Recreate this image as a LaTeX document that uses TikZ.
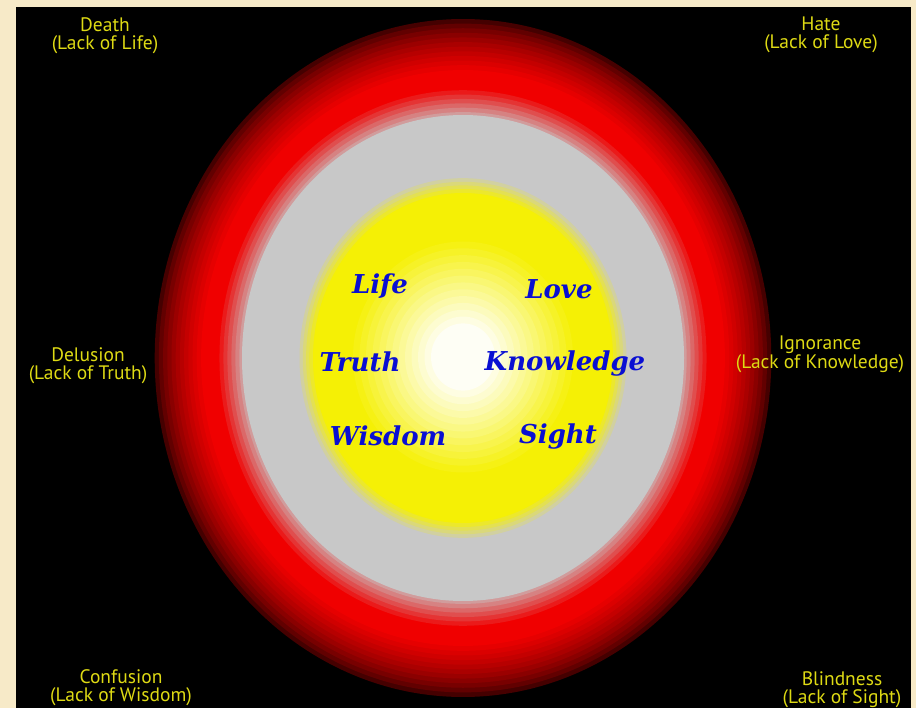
\documentclass[tikz,border=0pt]{standalone}
\usepackage{fontspec}
\newfontfamily\labfont{PT Sans}
\newfontfamily\wordfont{DejaVu Serif}[BoldItalicFont={DejaVu Serif Bold Italic}]
\definecolor{beige}{RGB}{247,234,200}
\definecolor{myred}{RGB}{240,0,0}
\definecolor{mygray}{RGB}{200,200,200}
\definecolor{myyellow}{RGB}{245,240,5}
\definecolor{labyellow}{RGB}{222,218,20}
\definecolor{wordblue}{RGB}{10,15,210}
\tikzset{
  lab/.style={text=labyellow, font=\labfont\fontsize{19.5}{18}\selectfont, align=center, inner sep=0pt},
  word/.style={text=wordblue, font=\wordfont\bfseries\itshape\fontsize{26}{28}\selectfont, inner sep=0pt}
}
\begin{document}
\begin{tikzpicture}[x=1pt,y=-1pt]
\useasboundingbox (0,0) rectangle (916,708);
\fill[beige] (0,0) rectangle (916,708);
\fill[black] (16,7) rectangle (911,708);
\coordinate (c) at (463,358);
% red ring: dark to red
\foreach \i in {0,...,10}{
  \pgfmathsetmacro{\s}{1.395-\i*0.019}
  \pgfmathsetmacro{\p}{100*sqrt((\i+1)/12)}
  \fill[myred!\p!black] (c) ellipse [x radius={221*\s}, y radius={243*\s}];
}
\fill[myred] (c) ellipse [x radius={221*1.185}, y radius={243*1.185}];
% red to gray
\foreach \i in {0,...,6}{
  \pgfmathsetmacro{\s}{1.12-\i*0.018}
  \pgfmathsetmacro{\p}{100-\i*13}
  \fill[myred!\p!mygray] (c) ellipse [x radius={221*\s}, y radius={243*\s}];
}
\fill[mygray] (c) ellipse [x radius=221, y radius=243];
% pale yellow halo
\foreach \i in {0,...,3}{
  \pgfmathsetmacro{\s}{1.09-\i*0.022}
  \pgfmathsetmacro{\p}{20+\i*20}
  \fill[myyellow!\p!mygray] (c) ellipse [x radius={150*\s}, y radius={165*\s}];
}
\fill[myyellow] (c) ellipse [x radius=150, y radius=165];
% white glow
\foreach \i in {0,...,12}{
  \pgfmathsetmacro{\r}{110-\i*6.5}
  \pgfmathsetmacro{\p}{94-\i*7.5}
  \fill[myyellow!\p!white] (463,357) ellipse [x radius={\r}, y radius={\r*1.05}];
}
% words
\node[word] (life) at (380,286) {Life};
\node[word] (love) at (559,289) {Love};
\node[word] (truth) at (360,362) {Truth};
\node[word] (know) at (565,364) {Knowledge};
\node[word] (wisdom) at (388,436) {Wisdom};
\node[word] (sight) at (558,437) {Sight};
% labels
\node[lab] (death) at (105,36) {Death\\(Lack of Life)};
\node[lab] (hate) at (821,35) {Hate\\(Lack of Love)};
\node[lab] (delusion) at (88,366) {Delusion\\(Lack of Truth)};
\node[lab] (ignorance) at (820,354) {Ignorance\\(Lack of Knowledge)};
\node[lab] (confusion) at (121,688) {Confusion\\(Lack of Wisdom)};
\node[lab] (blindness) at (842,690) {Blindness\\(Lack of Sight)};
\end{tikzpicture}
\end{document}
